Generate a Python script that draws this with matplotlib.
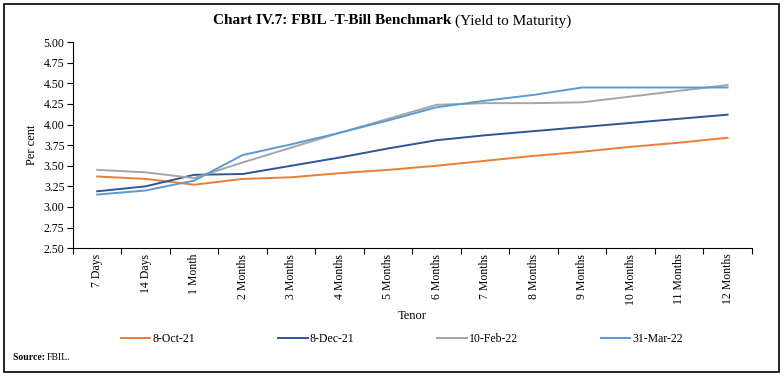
import matplotlib
matplotlib.use('Agg')
import matplotlib.pyplot as plt
from matplotlib.patches import Rectangle

plt.rcParams['font.family'] = 'Liberation Serif'

# ------------------------------------------------------------
# Data
# ------------------------------------------------------------
tenors = ['7 Days', '14 Days', '1 Month', '2 Months', '3 Months', '4 Months',
          '5 Months', '6 Months', '7 Months', '8 Months', '9 Months',
          '10 Months', '11 Months', '12 Months']
oct_21 = [3.37, 3.34, 3.27, 3.34, 3.36, 3.41, 3.45, 3.50, 3.56, 3.62, 3.67, 3.73, 3.78, 3.84]
dec_21 = [3.19, 3.25, 3.39, 3.40, 3.50, 3.60, 3.71, 3.81, 3.87, 3.92, 3.97, 4.02, 4.07, 4.12]
feb_22 = [3.45, 3.42, 3.35, 3.54, 3.72, 3.90, 4.07, 4.24, 4.26, 4.26, 4.27, 4.34, 4.41, 4.48]
mar_22 = [3.15, 3.20, 3.32, 3.63, 3.76, 3.90, 4.05, 4.21, 4.29, 4.36, 4.45, 4.45, 4.45, 4.45]
series_names = ['8-Oct-21', '8-Dec-21', '10-Feb-22', '31-Mar-22']
colors = ['#ED7D31', '#2F5597', '#A5A5A5', '#5B9BD5']
yticks = [2.50, 2.75, 3.00, 3.25, 3.50, 3.75, 4.00, 4.25, 4.50, 4.75, 5.00]

fig = plt.figure(figsize=(7.84, 3.80), dpi=100)
ax = fig.add_axes([0.093, 0.347, 0.866, 0.542])

x = range(len(tenors))
for vals, name, c in zip([oct_21, dec_21, feb_22, mar_22], series_names, colors):
    ax.plot(x, vals, color=c, lw=1.4, label=name)

# axes styling
ax.set_xlim(-0.5, len(tenors) - 0.5)
ax.set_ylim(2.5, 5.0)
ax.set_yticks(yticks)
ax.set_yticklabels([f'{v:.2f}' for v in yticks], fontsize=8.5)
ax.set_xticks([i - 0.5 for i in range(len(tenors) + 1)])
ax.set_xticklabels([])
ax.set_xticks(list(x), minor=True)
ax.set_xticklabels(tenors, minor=True, rotation=90, fontsize=8.5)
ax.tick_params(axis='x', which='minor', length=0, pad=4)
ax.tick_params(axis='x', which='major', length=4, direction='out')
ax.tick_params(axis='y', length=4, direction='out', pad=2)
for s in ['top', 'right']:
    ax.spines[s].set_visible(False)
ax.set_ylabel('Per cent', fontsize=9)
ax.set_xlabel('Tenor', fontsize=9, labelpad=4)

fig.legend(loc='center', bbox_to_anchor=(0.513, 0.108), ncol=4, frameon=False,
           fontsize=8.5, handlelength=2.5, columnspacing=7.0, handletextpad=0.2)

# title: bold part + regular part
fig.canvas.draw()
r = fig.canvas.get_renderer()
t1 = fig.text(0, 0.945, 'Chart IV.7: FBIL -T-Bill Benchmark ', fontsize=11,
              fontweight='bold', va='center')
t2 = fig.text(0, 0.945, '(Yield to Maturity)', fontsize=11, va='center')
w1 = t1.get_window_extent(r).width / fig.bbox.width
w2 = t2.get_window_extent(r).width / fig.bbox.width
start = 0.5 - (w1 + w2) / 2
t1.set_x(start)
t2.set_x(start + w1)

# source note
s1 = fig.text(0.016, 0.058, 'Source: ', fontsize=7, fontweight='bold', va='center')
ws = s1.get_window_extent(r).width / fig.bbox.width
fig.text(0.016 + ws, 0.058, 'FBIL.', fontsize=7, va='center')

# outer frame
fig.patches.append(Rectangle((0.005, 0.021), 0.9885, 0.968, transform=fig.transFigure,
                             fill=False, edgecolor='black', lw=1.2))

fig.savefig('out.png', dpi=100)
